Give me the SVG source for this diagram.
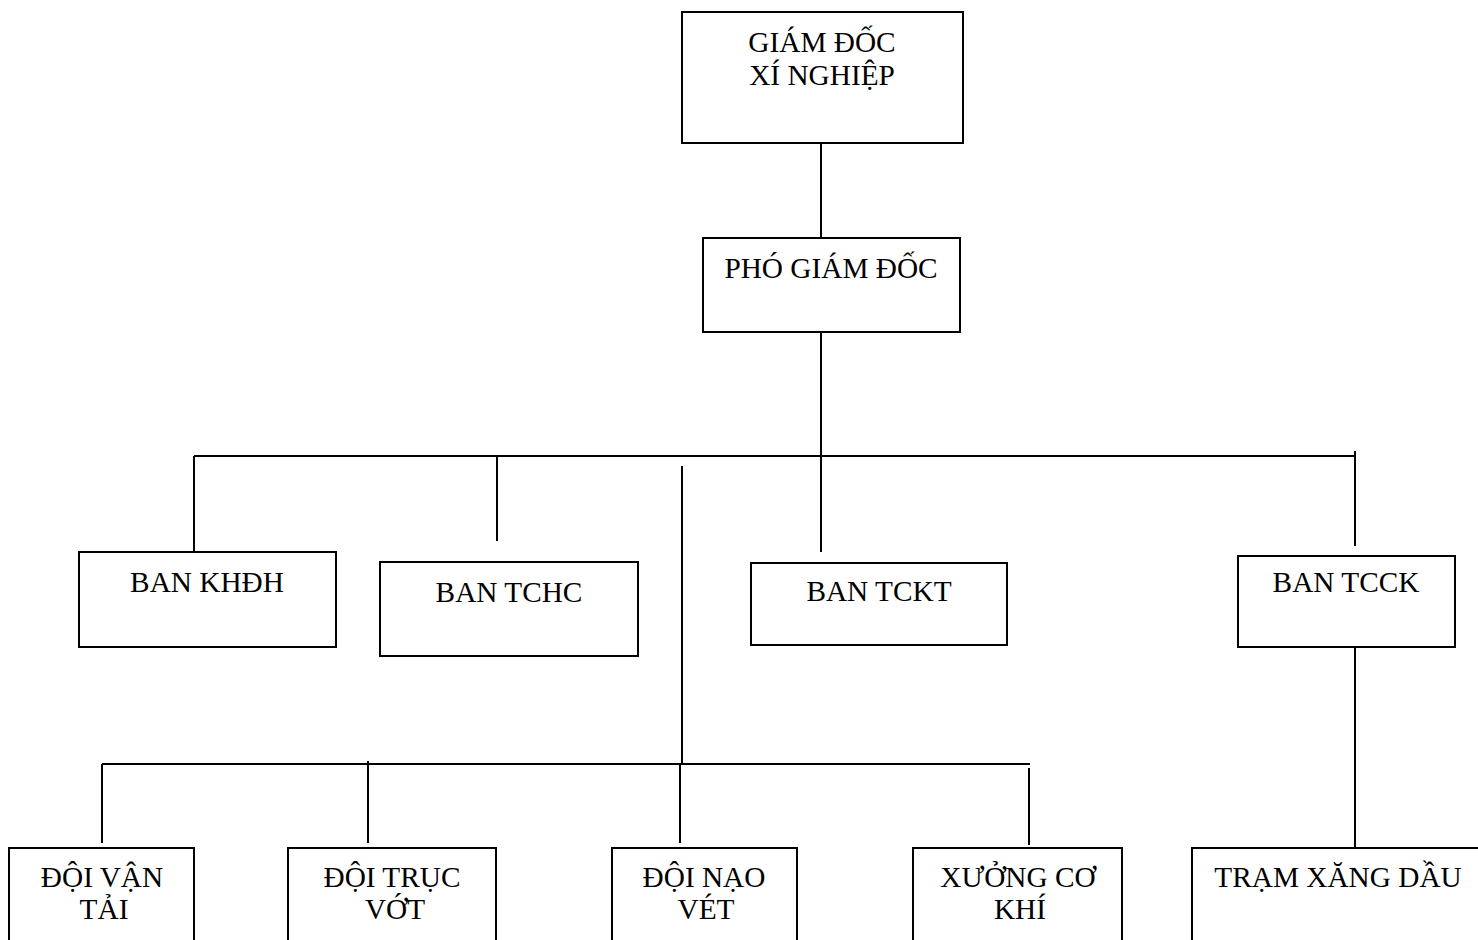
<svg xmlns="http://www.w3.org/2000/svg" width="1478" height="940" viewBox="0 0 1478 940">
<style>
.box{fill:#fff;stroke:#000;stroke-width:2}
.ln{stroke:#000;stroke-width:2;fill:none}
.t{font-family:"Liberation Serif","Times New Roman","DejaVu Serif",serif;font-size:29.3px;fill:#000;text-anchor:middle}
</style>
<rect width="1478" height="940" fill="#fff"/>
<g id="connectors">
<line class="ln" x1="821" y1="143" x2="821" y2="238"/>
<line class="ln" x1="821" y1="332" x2="821" y2="552"/>
<line class="ln" x1="194" y1="456" x2="1356" y2="456"/>
<line class="ln" x1="194" y1="456" x2="194" y2="552"/>
<line class="ln" x1="497" y1="456" x2="497" y2="541"/>
<line class="ln" x1="1355" y1="451" x2="1355" y2="546"/>
<line class="ln" x1="1355" y1="647" x2="1355" y2="848"/>
<line class="ln" x1="682" y1="466" x2="682" y2="764"/>
<line class="ln" x1="102" y1="764" x2="1030" y2="764"/>
<line class="ln" x1="102" y1="764" x2="102" y2="843"/>
<line class="ln" x1="368" y1="761" x2="368" y2="843"/>
<line class="ln" x1="680" y1="765" x2="680" y2="843"/>
<line class="ln" x1="1029" y1="768" x2="1029" y2="845"/>
</g>
<g id="giam-doc">
<rect class="box" x="682" y="12" width="281" height="131"/>
<text class="t" x="822" y="52">GIÁM ĐỐC</text>
<text class="t" x="822" y="85">XÍ NGHIỆP</text>
</g>
<g id="pho-giam-doc">
<rect class="box" x="703" y="238" width="257" height="94"/>
<text class="t" x="831" y="278">PHÓ GIÁM ĐỐC</text>
</g>
<g id="ban-khdh">
<rect class="box" x="79" y="552" width="257" height="95"/>
<text class="t" x="207" y="592">BAN KHĐH</text>
</g>
<g id="ban-tchc">
<rect class="box" x="380" y="562" width="258" height="94"/>
<text class="t" x="509" y="602">BAN TCHC</text>
</g>
<g id="ban-tckt">
<rect class="box" x="751" y="563" width="256" height="82"/>
<text class="t" x="879" y="601">BAN TCKT</text>
</g>
<g id="ban-tcck">
<rect class="box" x="1238" y="556" width="217" height="91"/>
<text class="t" x="1346" y="592">BAN TCCK</text>
</g>
<g id="doi-van-tai">
<rect class="box" x="9" y="848" width="185" height="112"/>
<text class="t" x="102" y="887">ĐỘI VẬN</text>
<text class="t" x="104" y="919">TẢI</text>
</g>
<g id="doi-truc-vot">
<rect class="box" x="288" y="848" width="208" height="112"/>
<text class="t" x="392" y="887">ĐỘI TRỤC</text>
<text class="t" x="395" y="919">VỚT</text>
</g>
<g id="doi-nao-vet">
<rect class="box" x="612" y="848" width="185" height="112"/>
<text class="t" x="704" y="887">ĐỘI NẠO</text>
<text class="t" x="706" y="919">VÉT</text>
</g>
<g id="xuong-co-khi">
<rect class="box" x="913" y="848" width="209" height="112"/>
<text class="t" x="1018" y="887">XƯỞNG CƠ</text>
<text class="t" x="1020" y="919">KHÍ</text>
</g>
<g id="tram-xang-dau">
<rect class="box" x="1192" y="848" width="300" height="112"/>
<text class="t" x="1338" y="887">TRẠM XĂNG DẦU</text>
</g>
</svg>
